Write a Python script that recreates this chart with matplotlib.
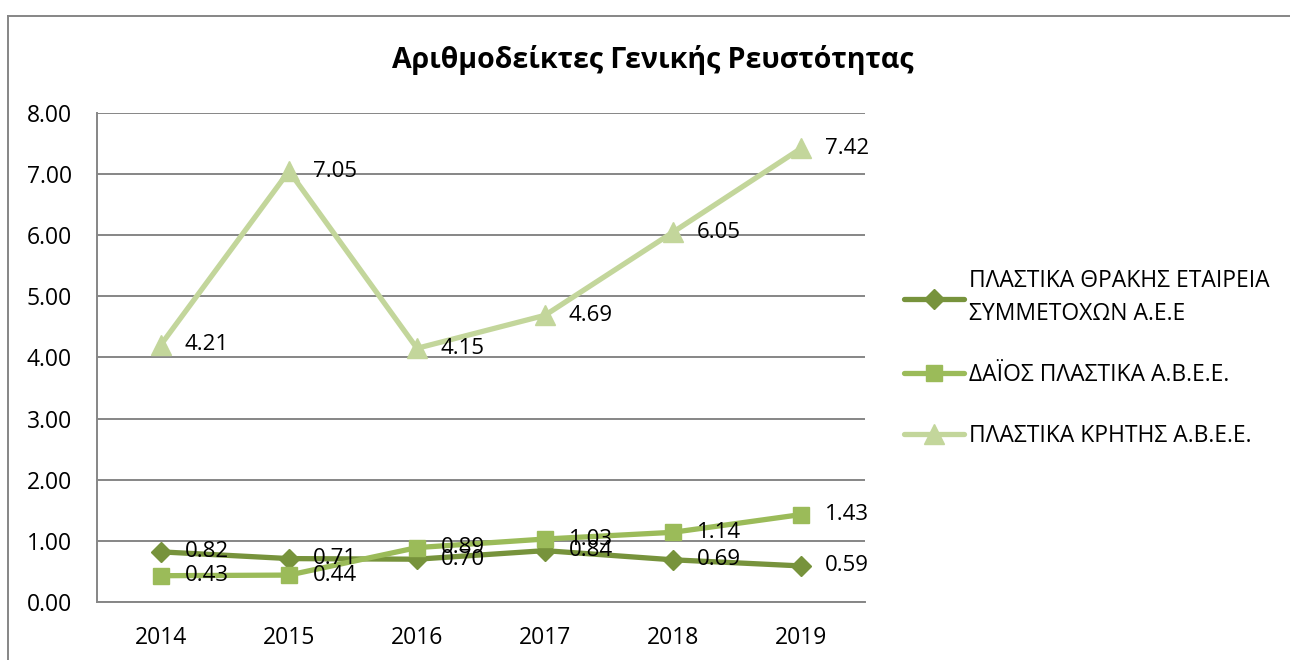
import matplotlib
matplotlib.use('Agg')
import matplotlib.pyplot as plt
from matplotlib.lines import Line2D

plt.rcParams['font.family'] = ['Open Sans', 'DejaVu Sans']

years = ['2014', '2015', '2016', '2017', '2018', '2019']
thrakis = [0.82, 0.71, 0.70, 0.84, 0.69, 0.59]
daios = [0.43, 0.44, 0.89, 1.03, 1.14, 1.43]
kritis = [4.21, 7.05, 4.15, 4.69, 6.05, 7.42]
names = ['ΠΛΑΣΤΙΚΑ ΘΡΑΚΗΣ ΕΤΑΙΡΕΙΑ\nΣΥΜΜΕΤΟΧΩΝ Α.Ε.Ε',
         'ΔΑΪΟΣ ΠΛΑΣΤΙΚΑ Α.Β.Ε.Ε.',
         'ΠΛΑΣΤΙΚΑ ΚΡΗΤΗΣ Α.Β.Ε.Ε.']
title = 'Αριθμοδείκτες Γενικής Ρευστότητας'

fig = plt.figure(figsize=(12.9, 6.6), dpi=100)
ax = fig.add_axes([0.0752, 0.0879, 0.5953, 0.7409])

x = list(range(len(years)))
styles = [('#77933C', 'D', 10), ('#9BBB59', 's', 12), ('#C3D69B', '^', 14)]
for vals, name, (col, mk, ms) in zip([thrakis, daios, kritis], names, styles):
    ax.plot(x, vals, color=col, lw=3.8, marker=mk, ms=ms, label=name,
            solid_capstyle='round')
    for xi, v in zip(x, vals):
        ax.annotate('%.2f' % v, (xi, v), xytext=(17, 0), textcoords='offset points',
                    ha='left', va='center', fontsize=16, color='black')

ax.set_xlim(-0.5, 5.5)
ax.set_ylim(0, 8)
ax.set_xticks(x)
ax.set_xticklabels(years)
ax.set_yticks(range(0, 9))
ax.set_yticklabels(['%.2f' % v for v in range(0, 9)])
ax.tick_params(axis='both', length=0, labelsize=16.5)
ax.tick_params(axis='y', pad=18)
ax.tick_params(axis='x', pad=17)
ax.grid(axis='y', color='#868686', lw=1.4)
ax.set_axisbelow(True)
for s in ['top', 'right']:
    ax.spines[s].set_visible(False)
ax.spines['left'].set_color('#868686')
ax.spines['left'].set_linewidth(1.4)
ax.spines['bottom'].set_color('#868686')
ax.spines['bottom'].set_linewidth(1.4)

leg = ax.legend(loc='upper left', bbox_to_anchor=(1.024, 0.724), frameon=False,
                fontsize=16.5, handlelength=2.6, labelspacing=1.6, handletextpad=0.25)
for t in leg.get_texts():
    t.set_linespacing(1.55)

fig.text(653 / 1290, 1 - 60 / 660, title, ha='center', va='center',
         fontsize=20.5, fontweight='bold')

# outer chart border (only top and left visible)
fig.add_artist(Line2D([8 / 1290, 8 / 1290], [0, 1 - 16 / 660], color='#868686', lw=1.4))
fig.add_artist(Line2D([8 / 1290, 1], [1 - 16 / 660, 1 - 16 / 660], color='#868686', lw=1.4))

fig.savefig('out.png', dpi=100)
